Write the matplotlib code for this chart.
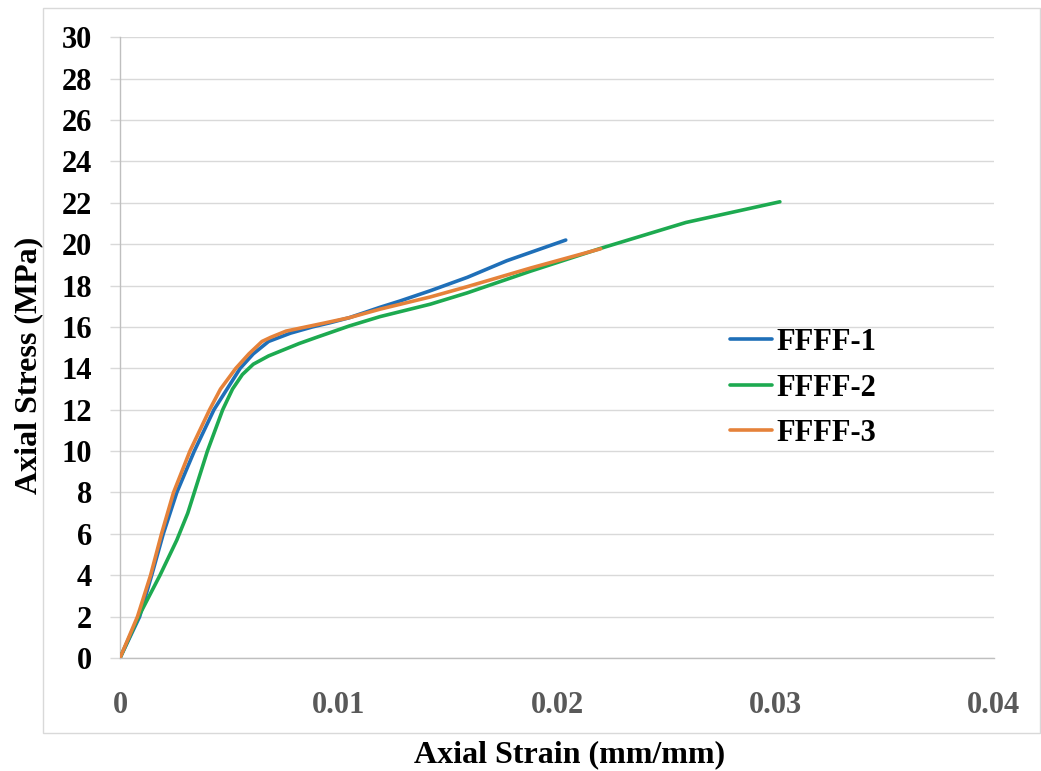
import matplotlib
matplotlib.use("Agg")
import matplotlib.pyplot as plt
from matplotlib.patches import Rectangle

# ---------------- data ----------------
x_ticks = [0, 0.01, 0.02, 0.03, 0.04]
x_tick_labels = ["0", "0.01", "0.02", "0.03", "0.04"]
y_ticks = list(range(0, 31, 2))

series_names = ["FFFF-1", "FFFF-2", "FFFF-3"]

strain_1 = [0, 0.0009, 0.00145, 0.00198, 0.0026, 0.0034, 0.0043, 0.0049, 0.0055, 0.0061,
            0.0068, 0.0078, 0.0088, 0.0096, 0.0105, 0.0119, 0.0128, 0.0142, 0.0159,
            0.0177, 0.0204]
stress_1 = [0, 2, 4, 6, 8, 10, 12, 13, 14, 14.7,
            15.3, 15.7, 16.0, 16.2, 16.45, 16.95, 17.25, 17.75, 18.4,
            19.2, 20.2]

strain_2 = [0, 0.00085, 0.00183, 0.0026, 0.0031, 0.0034, 0.0040, 0.00435, 0.0047, 0.00515,
            0.0056, 0.0061, 0.0068, 0.0075, 0.0082, 0.0090, 0.0105, 0.0119, 0.0142,
            0.0159, 0.0188, 0.0220, 0.0259, 0.0302]
stress_2 = [0, 2, 4, 5.7, 7, 8, 10, 11, 12, 13,
            13.7, 14.2, 14.6, 14.9, 15.2, 15.5, 16.05, 16.5, 17.1,
            17.65, 18.7, 19.8, 21.05, 22.05]

strain_3 = [0, 0.0008, 0.0014, 0.0019, 0.00245, 0.0032, 0.0041, 0.0046, 0.0053, 0.0059,
            0.0065, 0.0069, 0.0076, 0.0085, 0.0094, 0.0105, 0.0119, 0.0142, 0.0159,
            0.0188, 0.0220]
stress_3 = [0, 2, 4, 6, 8, 10, 12, 13, 14, 14.7,
            15.3, 15.5, 15.8, 16.0, 16.2, 16.45, 16.86, 17.45, 17.95,
            18.85, 19.78]

colors = ["#1F6FB8", "#1DAA50", "#E5823A"]

# ---------------- figure ----------------
plt.rcParams["font.family"] = ["Liberation Serif", "DejaVu Serif"]
plt.rcParams["font.weight"] = "bold"

W, H = 1041, 771
fig = plt.figure(figsize=(W / 100, H / 100), dpi=100)

# chart-area frame
fig.patches.append(Rectangle((43 / W, 1 - 733 / H), (1040 - 43) / W, (733 - 8) / H,
                             transform=fig.transFigure, fill=False,
                             edgecolor="#d9d9d9", linewidth=1.0, zorder=0))

ax = fig.add_axes([120 / W, 1 - 658 / H, (994 - 120) / W, (658 - 37.3) / H])

lines = []
for sx, sy, c, name in zip([strain_1, strain_2, strain_3],
                           [stress_1, stress_2, stress_3], colors, series_names):
    ln, = ax.plot(sx, sy, color=c, lw=2.6, solid_capstyle="round",
                  solid_joinstyle="round", label=name, zorder=3)
    lines.append(ln)

ax.set_xlim(0, 0.04)
ax.set_ylim(0, 30)
ax.set_xticks(x_ticks)
ax.set_xticklabels(x_tick_labels)
ax.set_yticks(y_ticks)

ax.grid(axis="y", color="#d9d9d9", lw=1.0, zorder=0)
ax.grid(axis="x", visible=False)
ax.set_axisbelow(True)

for s in ["top", "right"]:
    ax.spines[s].set_visible(False)
for s in ["left", "bottom"]:
    ax.spines[s].set_color("#bfbfbf")
    ax.spines[s].set_linewidth(1.0)

ax.tick_params(axis="y", length=7.2, width=1.0, color="#d9d9d9", pad=13,
               labelsize=22, labelcolor="black")
ax.tick_params(axis="x", length=0, pad=24, labelsize=22, labelcolor="#595959")
for lab in ax.get_xticklabels() + ax.get_yticklabels():
    lab.set_fontweight("bold")

# axis titles
fig.text(570 / W, 1 - 762 / H, "Axial Strain (mm/mm)", ha="center", va="baseline",
         fontsize=23, fontweight="bold", color="black")
fig.text(29 / W, 1 - 365 / H, "Axial Stress (MPa)", ha="center", va="center",
         rotation=90, fontsize=23, fontweight="bold", color="black")

leg = ax.legend(handles=lines, loc="upper left",
                bbox_to_anchor=(730 / W, 1 - 328 / H), bbox_transform=fig.transFigure,
                frameon=False, borderpad=0, borderaxespad=0,
                handlelength=1.37, handletextpad=0.16, labelspacing=0.54,
                prop={"size": 22, "weight": "bold"})

fig.savefig("out.png", dpi=100)
